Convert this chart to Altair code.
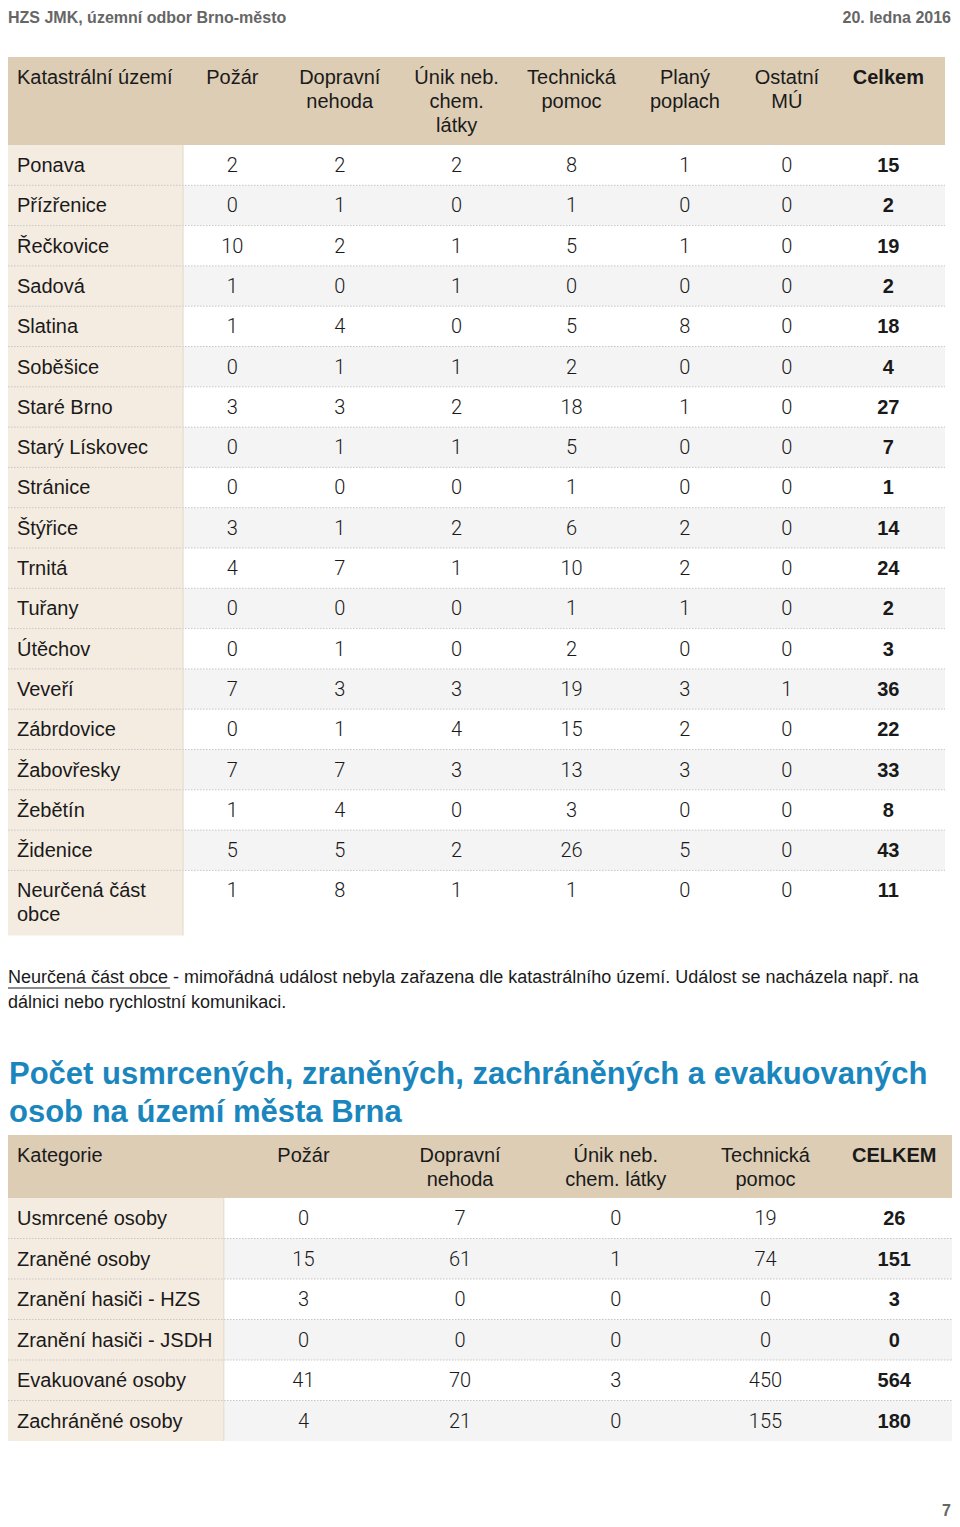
import altair as alt
import pandas as pd

# ---------------- data ----------------
page_header = "HZS JMK, územní odbor Brno-město"
page_date = "20. ledna 2016"
page_number = "7"

t1_first_header = "Katastrální území"
t1_headers = ["Požár", "Dopravní\nnehoda", "Únik neb.\nchem.\nlátky", "Technická\npomoc",
              "Planý\npoplach", "Ostatní\nMÚ"]
t1_total_header = "Celkem"
areas = ["Ponava", "Přízřenice", "Řečkovice", "Sadová", "Slatina", "Soběšice", "Staré Brno",
         "Starý Lískovec", "Stránice", "Štýřice", "Trnitá", "Tuřany", "Útěchov", "Veveří",
         "Zábrdovice", "Žabovřesky", "Žebětín", "Židenice", "Neurčená část\nobce"]
pozar = [2, 0, 10, 1, 1, 0, 3, 0, 0, 3, 4, 0, 0, 7, 0, 7, 1, 5, 1]
dopravni = [2, 1, 2, 0, 4, 1, 3, 1, 0, 1, 7, 0, 1, 3, 1, 7, 4, 5, 8]
unik = [2, 0, 1, 1, 0, 1, 2, 1, 0, 2, 1, 0, 0, 3, 4, 3, 0, 2, 1]
technicka = [8, 1, 5, 0, 5, 2, 18, 5, 1, 6, 10, 1, 2, 19, 15, 13, 3, 26, 1]
plany = [1, 0, 1, 0, 8, 0, 1, 0, 0, 2, 2, 1, 0, 3, 2, 3, 0, 5, 0]
ostatni = [0, 0, 0, 0, 0, 0, 0, 0, 0, 0, 0, 0, 0, 1, 0, 0, 0, 0, 0]
celkem = [15, 2, 19, 2, 18, 4, 27, 7, 1, 14, 24, 2, 3, 36, 22, 33, 8, 43, 11]

footnote_link = "Neurčená část obce"
footnote_lines = ["Neurčená část obce - mimořádná událost nebyla zařazena dle katastrálního území. Událost se nacházela např. na",
                  "dálnici nebo rychlostní komunikaci."]

title_lines = ["Počet usmrcených, zraněných, zachráněných a evakuovaných",
               "osob na území města Brna"]

t2_first_header = "Kategorie"
t2_headers = ["Požár", "Dopravní\nnehoda", "Únik neb.\nchem. látky", "Technická\npomoc"]
t2_total_header = "CELKEM"
categories = ["Usmrcené osoby", "Zraněné osoby", "Zranění hasiči - HZS", "Zranění hasiči - JSDH",
              "Evakuované osoby", "Zachráněné osoby"]
pozar2 = [0, 15, 3, 0, 41, 4]
dopravni2 = [7, 61, 0, 0, 70, 21]
unik2 = [0, 1, 0, 0, 3, 0]
technicka2 = [19, 74, 0, 0, 450, 155]
celkem2 = [26, 151, 3, 0, 564, 180]

# ---------------- layout (design units) ----------------
W, H = 944, 1511
XS = alt.Scale(domain=[5, 954], range=[0, W], zero=False, nice=False)
YS = alt.Scale(domain=[8, 8 + H], range=[0, H], zero=False, nice=False)

HEAD_BG = "#ddcdb5"
LABEL_BG = "#f5ece1"
ALT_BG = "#f4f4f4"
SEP = "#e4d9c8"
DOT = "#c6c6c6"
TXT = "#1a1a1a"
BLUE = "#1a86bd"
SANS = "Liberation Sans"
NUMF = "Roboto"

T1 = dict(edges=[5, 181, 280, 397, 515, 628, 743, 833, 947], top=57, head_h=88, row_h=40.3,
          last_h=65)
T2 = dict(edges=[5, 222, 382, 537, 695, 838, 954], top=1135, head_h=63, row_h=40.5, last_h=40.5)
LINE_H = 24

rects, hrules, vrules = [], [], []
texts = {k: [] for k in ["head", "head_left", "head_bold", "label", "num", "total"]}


def build_table(T, first_header, headers, total_header, labels, series, totals):
    e = T["edges"]
    left, right = e[0], e[-1]
    top, hh, rh = T["top"], T["head_h"], T["row_h"]
    n = len(labels)
    row_tops = [top + hh + rh * i for i in range(n)]
    bottom = row_tops[-1] + T["last_h"]
    rects.append(dict(x=left, x2=right, y=top, y2=top + hh, fill=HEAD_BG))
    for i in range(n):
        y0 = row_tops[i]
        y1 = y0 + (rh if i < n - 1 else T["last_h"])
        rects.append(dict(x=e[1], x2=right, y=y0, y2=y1, fill=ALT_BG if i % 2 else "#ffffff"))
        if i > 0:
            hrules.append(dict(x=left, x2=right, y=y0))
    rects.append(dict(x=left, x2=e[1], y=top + hh, y2=bottom, fill=LABEL_BG))
    vrules.append(dict(x=e[1], y=top + hh, y2=bottom))
    centers = [(e[k] + e[k + 1]) / 2 for k in range(1, len(e) - 1)]
    # headers
    for k, line in enumerate(first_header.split("\n")):
        texts["head_left"].append(dict(x=14, y=top + 21 + k * LINE_H, text=line))
    for c, h in zip(centers[:-1], headers):
        for k, line in enumerate(h.split("\n")):
            texts["head"].append(dict(x=c, y=top + 21 + k * LINE_H, text=line))
    texts["head_bold"].append(dict(x=centers[-1], y=top + 21, text=total_header))
    # body
    for i, lab in enumerate(labels):
        yc = row_tops[i] + 21
        for k, line in enumerate(lab.split("\n")):
            texts["label"].append(dict(x=14, y=yc + k * LINE_H, text=line))
        for c, s in zip(centers[:-1], series):
            texts["num"].append(dict(x=c, y=yc, text=str(s[i])))
        texts["total"].append(dict(x=centers[-1], y=yc, text=str(totals[i])))


build_table(T1, t1_first_header, t1_headers, t1_total_header, areas,
            [pozar, dopravni, unik, technicka, plany, ostatni], celkem)
build_table(T2, t2_first_header, t2_headers, t2_total_header, categories,
            [pozar2, dopravni2, unik2, technicka2], celkem2)

X = lambda f="x": alt.X(f"{f}:Q", scale=XS, axis=None)
Y = lambda f="y": alt.Y(f"{f}:Q", scale=YS, axis=None)

rect_layer = alt.Chart(pd.DataFrame(rects)).mark_rect(strokeWidth=0).encode(
    x=X(), x2="x2:Q", y=Y(), y2="y2:Q", color=alt.Color("fill:N", scale=None))
hrule_layer = alt.Chart(pd.DataFrame(hrules)).mark_rule(
    color=DOT, strokeWidth=1, strokeDash=[1.5, 1.5]).encode(x=X(), x2="x2:Q", y=Y())
vrule_layer = alt.Chart(pd.DataFrame(vrules)).mark_rule(
    color=SEP, strokeWidth=1).encode(x=X(), y=Y(), y2="y2:Q")


def tl(rows, **kw):
    base = dict(baseline="middle", clip=False)
    base.update(kw)
    return alt.Chart(pd.DataFrame(rows)).mark_text(**base).encode(x=X(), y=Y(), text="text:N")


layers = [rect_layer, hrule_layer, vrule_layer,
          tl(texts["head"], align="center", font=SANS, fontSize=20, color=TXT),
          tl(texts["head_left"], align="left", font=SANS, fontSize=20, color=TXT),
          tl(texts["head_bold"], align="center", font=SANS, fontSize=20, fontWeight="bold", color=TXT),
          tl(texts["label"], align="left", font=SANS, fontSize=20, color=TXT),
          tl(texts["num"], align="center", font=NUMF, fontSize=20, fontWeight=300, color=TXT),
          tl(texts["total"], align="center", font=SANS, fontSize=20, fontWeight="bold", color=TXT),
          # page header / footer
          tl([dict(x=5, y=17.5, text=page_header)], align="left", font=SANS, fontSize=16,
             fontWeight="bold", color="#666666"),
          tl([dict(x=953, y=17.5, text=page_date)], align="right", font=SANS, fontSize=16,
             fontWeight="bold", color="#666666"),
          tl([dict(x=953, y=1511, text=page_number)], align="right", font=SANS, fontSize=16,
             fontWeight="bold", color="#666666"),
          # footnote
          tl([dict(x=5, y=978 + 25 * k, text=t) for k, t in enumerate(footnote_lines)],
             align="left", font=SANS, fontSize=18, color=TXT),
          alt.Chart(pd.DataFrame([dict(x=5, x2=168, y=988)])).mark_rule(color=TXT, strokeWidth=1)
          .encode(x=X(), x2="x2:Q", y=Y()),
          # section title
          tl([dict(x=6, y=1075 + 38 * k, text=t) for k, t in enumerate(title_lines)],
             align="left", font=SANS, fontSize=31, fontWeight="bold", color=BLUE),
          ]

chart = alt.layer(*layers).properties(
    width=W, height=H, padding=0, autosize=alt.AutoSizeParams(type="none"),
    background="#ffffff"
).configure_view(stroke=None)

chart.save("out.html", embed_options={"renderer": "svg", "actions": False})
